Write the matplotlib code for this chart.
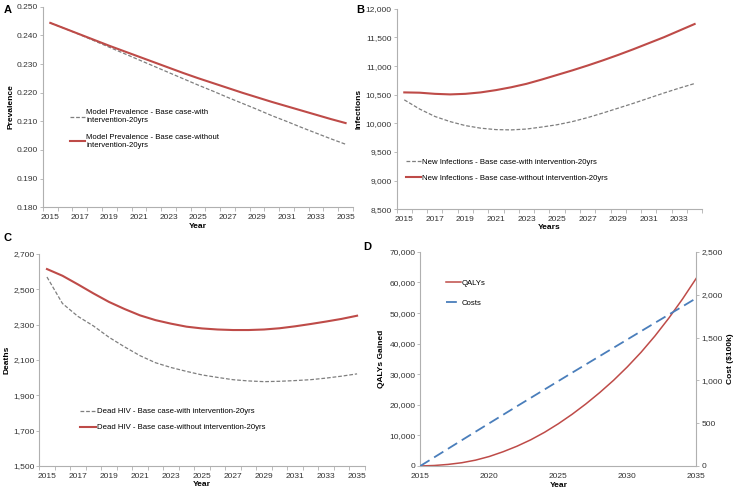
import numpy as np
from matplotlib import pyplot as plt
from matplotlib.ticker import FuncFormatter, MultipleLocator

plt.rcParams['font.family'] = ['Liberation Sans', 'DejaVu Sans']
plt.rcParams['font.size'] = 6

# panel A - prevalence
years_a = list(range(2015, 2036))
prev_with = [0.2444, 0.2424, 0.2403, 0.2381, 0.2359, 0.2337, 0.2315, 0.2293, 0.2271, 0.2249,
             0.2227, 0.2206, 0.2184, 0.2163, 0.2142, 0.2120, 0.2100, 0.2079, 0.2059, 0.2039, 0.2020]
prev_without = [0.2444, 0.2424, 0.2404, 0.2384, 0.2364, 0.2345, 0.2326, 0.2307, 0.2288, 0.2269,
                0.2251, 0.2234, 0.2217, 0.2200, 0.2184, 0.2168, 0.2153, 0.2138, 0.2123, 0.2108, 0.2094]

# panel B - new infections
years_b = list(range(2015, 2035))
inf_with = [10410, 10250, 10120, 10030, 9960, 9915, 9890, 9885, 9900, 9935,
            9975, 10030, 10100, 10180, 10265, 10350, 10440, 10530, 10615, 10695]
inf_without = [10540, 10535, 10515, 10505, 10515, 10540, 10580, 10630, 10690, 10765,
               10845, 10925, 11010, 11100, 11195, 11295, 11400, 11505, 11620, 11735]

# panel C - deaths
years_c = list(range(2015, 2036))
dead_with = [2569, 2419, 2346, 2292, 2228, 2174, 2124, 2084, 2057, 2035,
             2015, 2001, 1988, 1981, 1977, 1979, 1983, 1988, 1997, 2008, 2021]
dead_without = [2614, 2576, 2527, 2476, 2428, 2388, 2352, 2325, 2305, 2288,
                2278, 2272, 2269, 2269, 2272, 2279, 2290, 2303, 2317, 2332, 2350]

# panel D - QALYs and costs
years_d = list(range(2015, 2036))
qalys = [0, 150, 500, 1050, 1900, 3100, 4650, 6450, 8550, 11000,
         13800, 16900, 20300, 24000, 28000, 32400, 37200, 42500, 48300, 54600, 61400]
costs = [0, 100, 200, 300, 400, 499, 598, 697, 795, 893,
         991, 1089, 1186, 1283, 1380, 1477, 1574, 1671, 1767, 1863, 1960]

RED = '#be4b48'
GREY = '#7f7f7f'
BLUE = '#4a7ebb'
SPINE = '#b0b0b0'

comma = FuncFormatter(lambda v, p: '{:,.0f}'.format(v))
leg_kw = dict(frameon=False, fontsize=5.6, handlelength=2.0, handletextpad=0.1, borderaxespad=0)


def style_axis(ax):
    for s in ['top', 'right']:
        ax.spines[s].set_visible(False)
    for s in ['left', 'bottom']:
        ax.spines[s].set_color(SPINE)
        ax.spines[s].set_linewidth(0.8)
    ax.tick_params(colors=SPINE, labelcolor='#333333', length=2, width=0.6, pad=1.5, labelsize=6)


def cat_axis(ax, x0, x1):
    # excel category axis: ticks between years, labels every other year
    ax.set_xlim(x0 - 0.5, x1 + 0.5)
    ax.set_xticks(list(range(x0, x1 + 1, 2)))
    ax.xaxis.set_minor_locator(MultipleLocator(1, offset=0.5))
    ax.tick_params(axis='x', which='major', length=0, pad=5)
    ax.tick_params(axis='x', which='minor', length=3, width=0.6, colors=SPINE)


fig = plt.figure(figsize=(7.4, 4.91), dpi=100)

axA = fig.add_axes([0.058, 0.578, 0.419, 0.408])
axB = fig.add_axes([0.536, 0.574, 0.413, 0.408])
axC = fig.add_axes([0.053, 0.051, 0.440, 0.432])
axD = fig.add_axes([0.568, 0.051, 0.373, 0.436])

# A
axA.plot(years_a, prev_with, color=GREY, lw=0.9, ls=(0, (3, 1.5)),
         label='Model Prevalence - Base case-with\nintervention-20yrs')
axA.plot(years_a, prev_without, color=RED, lw=1.5,
         label='Model Prevalence - Base case-without\nintervention-20yrs')
style_axis(axA)
cat_axis(axA, 2015, 2035)
axA.set_ylim(0.180, 0.250)
axA.set_yticks(np.arange(0.180, 0.2501, 0.010))
axA.yaxis.set_major_formatter(FuncFormatter(lambda v, p: '{:.3f}'.format(v)))
axA.set_xlabel('Year', fontweight='bold', labelpad=1)
axA.set_ylabel('Prevalence', fontweight='bold', labelpad=2)
axA.legend(loc='center left', bbox_to_anchor=(0.077, 0.39), labelspacing=1.2, **leg_kw)

# B
axB.plot(years_b, inf_with, color=GREY, lw=0.9, ls=(0, (3, 1.5)),
         label='New Infections - Base case-with intervention-20yrs')
axB.plot(years_b, inf_without, color=RED, lw=1.5,
         label='New Infections - Base case-without intervention-20yrs')
style_axis(axB)
cat_axis(axB, 2015, 2034)
axB.set_xticks(list(range(2015, 2034, 2)))
axB.set_ylim(8500, 12000)
axB.set_yticks(range(8500, 12001, 500))
axB.yaxis.set_major_formatter(comma)
axB.set_xlabel('Years', fontweight='bold', labelpad=1)
axB.set_ylabel('Infections', fontweight='bold', labelpad=2)
axB.legend(loc='center left', bbox_to_anchor=(0.02, 0.195), labelspacing=1.1, **leg_kw)

# C
axC.plot(years_c, dead_with, color=GREY, lw=0.9, ls=(0, (3, 1.5)),
         label='Dead HIV - Base case-with intervention-20yrs')
axC.plot(years_c, dead_without, color=RED, lw=1.5,
         label='Dead HIV - Base case-without intervention-20yrs')
style_axis(axC)
cat_axis(axC, 2015, 2035)
axC.set_ylim(1500, 2700)
axC.set_yticks(range(1500, 2701, 200))
axC.yaxis.set_major_formatter(comma)
axC.set_xlabel('Year', fontweight='bold', labelpad=0.5)
axC.set_ylabel('Deaths', fontweight='bold', labelpad=2)
axC.legend(loc='center left', bbox_to_anchor=(0.117, 0.219), labelspacing=1.1, **leg_kw)

# D
lq, = axD.plot(years_d, qalys, color=RED, lw=1.1, label='QALYs')
axD2 = axD.twinx()
lc, = axD2.plot(years_d, costs, color=BLUE, lw=1.3, ls=(0, (6, 3)), label='Costs')
style_axis(axD)
axD2.spines['top'].set_visible(False)
axD2.spines['left'].set_visible(False)
axD2.spines['bottom'].set_visible(False)
axD2.spines['right'].set_color(SPINE)
axD2.spines['right'].set_linewidth(0.8)
axD2.tick_params(colors=SPINE, labelcolor='#333333', length=2, width=0.6, pad=1.5, labelsize=6)
axD.set_xlim(2015, 2035)
axD.set_xticks(range(2015, 2036, 5))
axD.tick_params(axis='x', length=0, pad=5)
axD.set_ylim(0, 70000)
axD.set_yticks(range(0, 70001, 10000))
axD.yaxis.set_major_formatter(comma)
axD2.set_ylim(0, 2500)
axD2.set_yticks(range(0, 2501, 500))
axD2.yaxis.set_major_formatter(comma)
axD.set_xlabel('Year', fontweight='bold', labelpad=1.5)
axD.set_ylabel('QALYs Gained', fontweight='bold', labelpad=3)
axD2.set_ylabel('Cost ($100k)', fontweight='bold', labelpad=3)
axD.legend([lq, lc], ['QALYs', 'Costs'], loc='center left', bbox_to_anchor=(0.08, 0.808),
           labelspacing=1.6, **leg_kw)

# panel letters
fig.text(0.005, 0.99, 'A', fontsize=8, fontweight='bold', va='top')
fig.text(0.481, 0.99, 'B', fontsize=8, fontweight='bold', va='top')
fig.text(0.005, 0.525, 'C', fontsize=8, fontweight='bold', va='top')
fig.text(0.491, 0.508, 'D', fontsize=8, fontweight='bold', va='top')

fig.savefig('out.png', dpi=100)
